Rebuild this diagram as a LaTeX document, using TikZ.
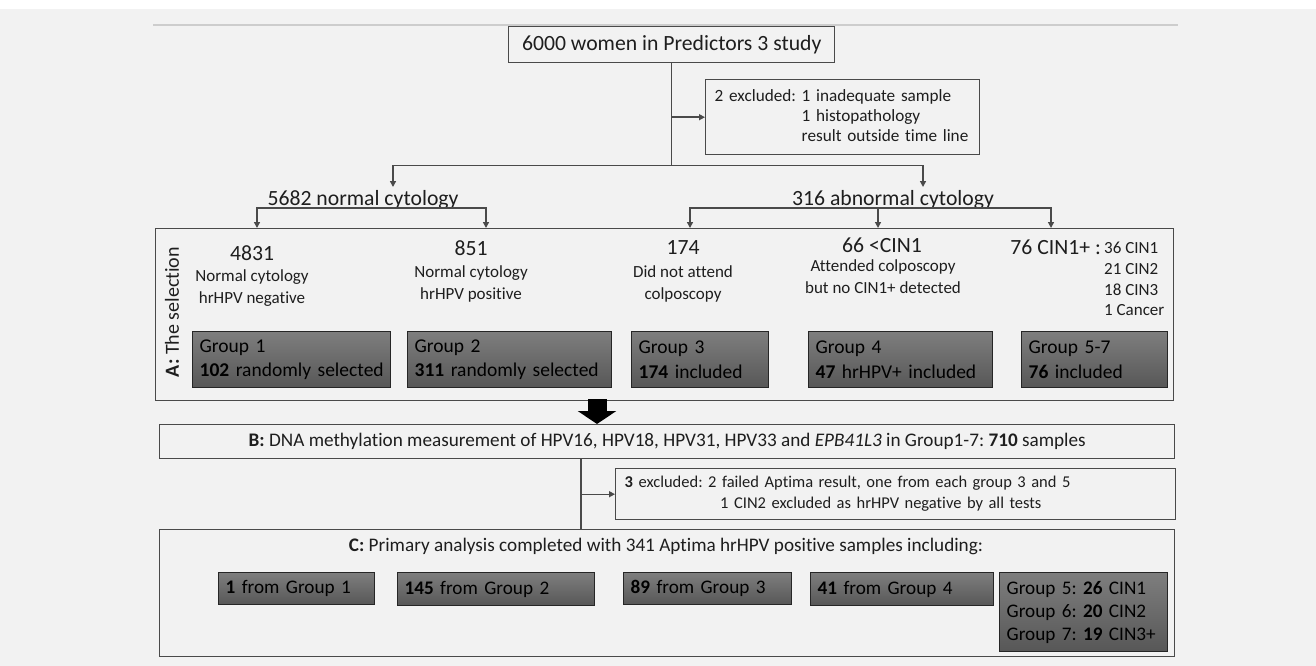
\documentclass[tikz,border=0pt]{standalone}
\usepackage{fontspec}
\setmainfont{Carlito}[Ligatures=NoCommon]
\usetikzlibrary{arrows.meta,calc}
\frenchspacing

\definecolor{paper}{HTML}{F2F2F2}
\definecolor{ink}{HTML}{1E1E1E}
\definecolor{frame}{HTML}{4A4A4A}
\definecolor{rulegray}{HTML}{CDCDCD}
\definecolor{shadetop}{HTML}{7E7E7E}
\definecolor{shadebot}{HTML}{575757}

\newcommand{\fsbig}{\fontsize{21.7}{26}\selectfont}
\newcommand{\fslab}{\fontsize{20}{24}\selectfont}
\newcommand{\fsgrp}{\fontsize{19.5}{24.5}\selectfont}
\newcommand{\fsbox}{\fontsize{19.2}{23}\selectfont}
\newcommand{\fsnote}{\fontsize{17}{22}\selectfont}
\newcommand{\fsexcl}{\fontsize{17.2}{20}\selectfont}

\begin{document}
\begin{tikzpicture}[x=1pt,y=-1pt,
    whitebox/.style={draw=frame, line width=1.4pt, fill=paper, anchor=north west,
      inner ysep=0pt, text=ink},
    darkbox/.style={draw=black!85, line width=1.3pt, top color=shadetop, bottom color=shadebot,
      anchor=north west, inner xsep=7pt, inner ysep=0pt, align=left, text=black},
    link/.style={draw=frame, line width=1.4pt},
    tip/.style={link, -{Triangle[length=6pt,width=6pt]}},
    tips/.style={link, {Triangle[length=6pt,width=6pt]}-{Triangle[length=6pt,width=6pt]}},
    bigarrow/.style={draw=black, line width=19pt, -{Triangle[length=13pt,width=38pt]}},
    count/.style={font=\fsbig, text=ink, inner sep=0pt},
    note/.style={font=\fsnote, text=ink, align=center, inner sep=0pt}]
  \useasboundingbox (0,0) rectangle (1316,666);
  \fill[paper] (0,0) rectangle (1316,666);
  \fill[white] (0,0) rectangle (1316,9);
  \draw[rulegray, line width=1.3pt] (153,25) -- (1178,25);

  % top of the flow
  \node[whitebox, minimum width=326, minimum height=36, font=\fsbig] (topbox) at (508,26)
    {6000 women in Predictors 3 study};
  \node[whitebox, minimum width=274, minimum height=75, inner xsep=9pt, text width=256,
    align=left, font=\fsexcl] (exclbox) at (705,79)
    {\begin{tabular}{@{}l@{ }l@{}}2 excluded: & 1 inadequate sample\\
      & 1 histopathology\\ & result outside time line\end{tabular}};
  \draw[link] (topbox.south) -- ++(0,102) coordinate (fork);
  \draw[tip] (topbox.south |- exclbox.west) -- (exclbox.west);
  \coordinate (toNormal) at (393,187);
  \coordinate (toAbn) at (923,187);
  \draw[tips] (toNormal) |- (fork) -| (toAbn);
  \node[count, anchor=base] (normlab) at (363,205) {5682 normal cytology};
  \node[count, anchor=base] (abnlab) at (893,205) {316 abnormal cytology};

  % A: the selection
  \node[whitebox, fill=none, minimum width=1018, minimum height=172] (Abox) at (155,228) {};
  \coordinate (in1) at (257,228);
  \coordinate (in2) at (486,228);
  \coordinate (in3) at (690,228);
  \coordinate (in4) at (878,228);
  \coordinate (in5) at (1051,228);
  \draw[tips] (in1) -- ++(0,-20) -| (in2);
  \draw[tips] (in3) -- ++(0,-20) -| (in5);
  \draw[tip] (in4) ++(0,-20) -- (in4);
  \node[rotate=90, font=\fslab, text=ink, inner sep=0pt] (alabel) at (172,312)
    {\textbf{A:} The selection};

  \node[count] (n4831) at (252,253) {4831};
  \node[note] (d4831) at (252,288) {Normal cytology\\hrHPV negative};
  \node[count] (n851) at (471,248) {851};
  \node[note] (d851) at (471,283.5) {Normal cytology\\hrHPV positive};
  \node[count] (n174) at (683,248) {174};
  \node[note] (d174) at (683,283.5) {Did not attend\\colposcopy};
  \node[count] (n66) at (882,245) {66 <CIN1};
  \node[note] (d66) at (883,277) {Attended colposcopy\\but no CIN1+ detected};
  \node[count, anchor=east] (n76) at (1101,247) {76 CIN1+ :};
  \node[note, align=left, anchor=west, font=\fontsize{17}{20.7}\selectfont] (cinlist) at (1104,279)
    {36 CIN1\\21 CIN2\\18 CIN3\\1 Cancer};

  \node[darkbox, font=\fsgrp, minimum width=198, minimum height=56, text width=184] (grp1) at (192,331)
    {Group 1\\\mbox{\textbf{102} randomly selected}};
  \node[darkbox, font=\fsgrp, minimum width=204, minimum height=56, text width=190] (grp2) at (407,331)
    {Group 2\\\mbox{\textbf{311} randomly selected}};
  \node[darkbox, font=\fsgrp, minimum width=137, minimum height=56, text width=123] (grp3) at (631,331)
    {Group 3\\\textbf{174} included};
  \node[darkbox, font=\fsgrp, minimum width=184, minimum height=56, text width=170] (grp4) at (808,331)
    {Group 4\\\textbf{47} hrHPV+ included};
  \node[darkbox, font=\fsgrp, minimum width=146, minimum height=56, text width=132] (grp57) at (1021,331)
    {Group 5-7\\\textbf{76} included};

  % B: measurement
  \node[whitebox, minimum width=1015, minimum height=34, font=\fsbox] (Bbox) at (159,424)
    {\textbf{B:} DNA methylation measurement of HPV16, HPV18, HPV31, HPV33 and
     \textit{EPB41L3} in Group1-7: \textbf{710} samples};
  \coordinate (ashaft) at (597,399);
  \draw[bigarrow] (ashaft) -- (ashaft |- Bbox.north);

  \node[whitebox, minimum width=560, minimum height=51, inner xsep=9pt, text width=542,
    align=left, font=\fontsize{16.5}{21}\selectfont] (excl3) at (615,468)
    {\begin{tabular}{@{}l@{ }l@{}}\textbf{3} excluded: & 2 failed Aptima result, one from each group 3 and 5\\
      & \hspace*{12pt}1 CIN2 excluded as hrHPV negative by all tests\end{tabular}};

  % C: primary analysis
  \node[whitebox, fill=none, minimum width=1015, minimum height=127] (Cbox) at (159,529) {};
  \coordinate (btrunk) at (581,458);
  \draw[link] (btrunk) -- (btrunk |- Cbox.north);
  \draw[tip] (btrunk |- excl3.west) -- (excl3.west);
  \node[font=\fsbox, text=ink, inner sep=0pt] (ctitle) at (666,546)
    {\textbf{C:} Primary analysis completed with 341 Aptima hrHPV positive samples including:};

  \node[darkbox, font=\fsbox, minimum width=156, minimum height=32, text width=142] (cg1) at (218,572)
    {\textbf{1} from Group 1};
  \node[darkbox, font=\fsbox, minimum width=197, minimum height=33, text width=183] (cg2) at (397,572)
    {\textbf{145} from Group 2};
  \node[darkbox, font=\fsbox, minimum width=168, minimum height=32, text width=154] (cg3) at (623,572)
    {\textbf{89} from Group 3};
  \node[darkbox, font=\fsbox, minimum width=183, minimum height=33, text width=169] (cg4) at (810,572)
    {\textbf{41} from Group 4};
  \node[darkbox, font=\fsbox, minimum width=168, minimum height=79, text width=154] (cg57) at (999,572)
    {Group 5: \textbf{26} CIN1\\Group 6: \textbf{20} CIN2\\Group 7: \textbf{19} CIN3+};
\end{tikzpicture}
\end{document}
